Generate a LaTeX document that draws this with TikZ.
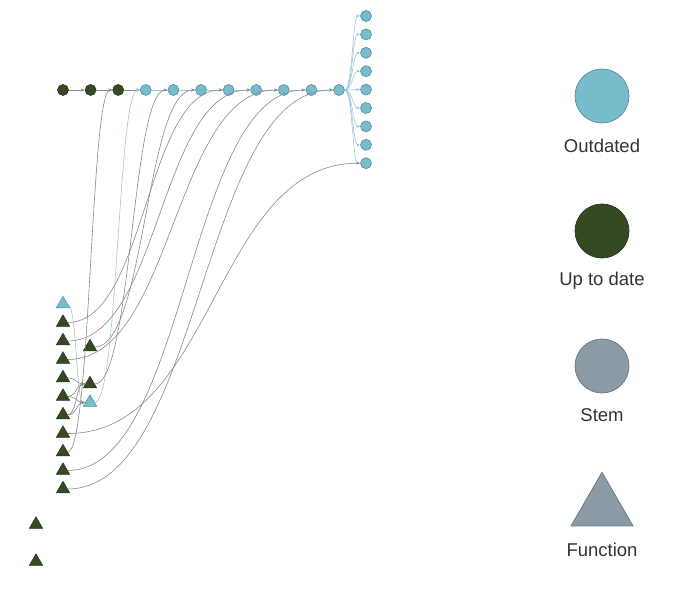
\documentclass[tikz,border=0pt]{standalone}
\usepackage{fontspec}
\setmainfont{Liberation Sans}
\usetikzlibrary{shapes.geometric,arrows.meta,calc}
\definecolor{outfill}{HTML}{78BCCC}
\definecolor{outdraw}{HTML}{4E8FA2}
\definecolor{upfill}{HTML}{354A22}
\definecolor{updraw}{HTML}{25351A}
\definecolor{stemfill}{HTML}{8A9BA6}
\definecolor{stemdraw}{HTML}{667886}
\definecolor{edgegrey}{HTML}{8A8A8A}
\definecolor{edgeblue}{HTML}{A0C8D6}
\definecolor{txt}{HTML}{333333}
\begin{document}
\begin{tikzpicture}[x=1pt,y=-1pt,
  outc/.style={circle,minimum size=11pt,inner sep=0pt,fill=outfill,draw=outdraw,line width=0.6pt},
  upc/.style={circle,minimum size=11pt,inner sep=0pt,fill=upfill,draw=updraw,line width=0.6pt},
  outt/.style={regular polygon,regular polygon sides=3,minimum size=15.5pt,inner sep=0pt,fill=outfill,draw=outdraw,line width=0.5pt,yshift=-2pt},
  upt/.style={regular polygon,regular polygon sides=3,minimum size=15.5pt,inner sep=0pt,fill=upfill,draw=updraw,line width=0.5pt,yshift=-2pt},
  ge/.style={draw=edgegrey,line width=0.6pt,-{Stealth[length=4pt,width=3pt]}},
  be/.style={draw=edgeblue,line width=0.6pt,-{Stealth[length=4pt,width=3pt]}},
  legtxt/.style={text=txt,font=\fontsize{18.5}{22}\selectfont,inner sep=0pt}]
\useasboundingbox (0,0) rectangle (680,604);
\fill[white] (0,0) rectangle (680,604);
\newcommand\cedge[3]{\draw[#1] let \p1=(#2), \p2=(#3) in (#2) .. controls ({(\x1+\x2)/2},\y1) and ({(\x1+\x2)/2},\y2) .. (#3);}
% chain
\node[upc] (c1) at (63,90) {};
\node[upc] (c2) at (90.6,90) {};
\node[upc] (c3) at (118.2,90) {};
\node[outc] (c4) at (145.8,90) {};
\node[outc] (c5) at (173.4,90) {};
\node[outc] (c6) at (201,90) {};
\node[outc] (c7) at (228.6,90) {};
\node[outc] (c8) at (256.2,90) {};
\node[outc] (c9) at (283.8,90) {};
\node[outc] (c10) at (311.4,90) {};
\node[outc] (c11) at (339,90) {};
% right column
\foreach \i/\y in {1/16,2/34.4,3/52.8,4/71.2,5/89.6,6/108,7/126.4,8/144.8,9/163.2}
  \node[outc] (r\i) at (366,\y) {};
% triangles
\node[outt] (tA) at (63,302) {};
\node[upt] (t1) at (63,320.5) {};
\node[upt] (t2) at (63,339) {};
\node[upt] (t3) at (63,357.5) {};
\node[upt] (t4) at (63,376) {};
\node[upt] (t5) at (63,394.5) {};
\node[upt] (t6) at (63,413) {};
\node[upt] (t7) at (63,431.5) {};
\node[upt] (t8) at (63,450) {};
\node[upt] (t9) at (63,468.5) {};
\node[upt] (t10) at (63,487) {};
\node[upt] (m1) at (90,345) {};
\node[upt] (m2) at (90,382) {};
\node[outt] (m3) at (90,400.5) {};
\node[upt] (b1) at (36,522.5) {};
\node[upt] (b2) at (36,559.5) {};
% chain edges
\draw[ge] (c1) -- (c2);
\draw[ge] (c2) -- (c3);
\draw[ge] (c3) -- (c4);
\foreach \a/\b in {c4/c5,c5/c6,c6/c7,c7/c8,c8/c9,c9/c10,c10/c11}
  \draw[be] (\a) -- (\b);
\foreach \i in {1,...,9} { \cedge{be}{c11}{r\i} }
% function edges
\cedge{be}{tA}{m3}
\cedge{ge}{t4}{m2}
\cedge{ge}{t5}{m2}
\cedge{ge}{t5}{m3}
\cedge{ge}{t6}{m2}
\cedge{ge}{t6}{m3}
\cedge{ge}{t8}{c3}
\cedge{be}{m3}{c4}
\cedge{ge}{m2}{c5}
\cedge{ge}{m1}{c6}
\cedge{ge}{t1}{c7}
\cedge{ge}{t2}{c8}
\cedge{ge}{t3}{c9}
\cedge{ge}{t9}{c10}
\cedge{ge}{t10}{c11}
\cedge{ge}{t7}{r9}
% legend
\node[circle,minimum size=54pt,inner sep=0pt,fill=outfill,draw=outdraw,line width=0.7pt] (l1) at (602,96) {};
\node[legtxt] (l1t) at (602,146) {Outdated};
\node[circle,minimum size=54pt,inner sep=0pt,fill=upfill,draw=updraw,line width=0.7pt] (l2) at (602,231) {};
\node[legtxt] (l2t) at (602,281) {Up to date};
\node[circle,minimum size=54pt,inner sep=0pt,fill=stemfill,draw=stemdraw,line width=0.7pt] (l3) at (602,366) {};
\node[legtxt] (l3t) at (602,415) {Stem};
\node[regular polygon,regular polygon sides=3,minimum size=71.6pt,inner sep=0pt,fill=stemfill,draw=stemdraw,line width=0.7pt] (l4) at (602,508) {};
\node[legtxt] (l4t) at (602,550) {Function};
\end{tikzpicture}
\end{document}
